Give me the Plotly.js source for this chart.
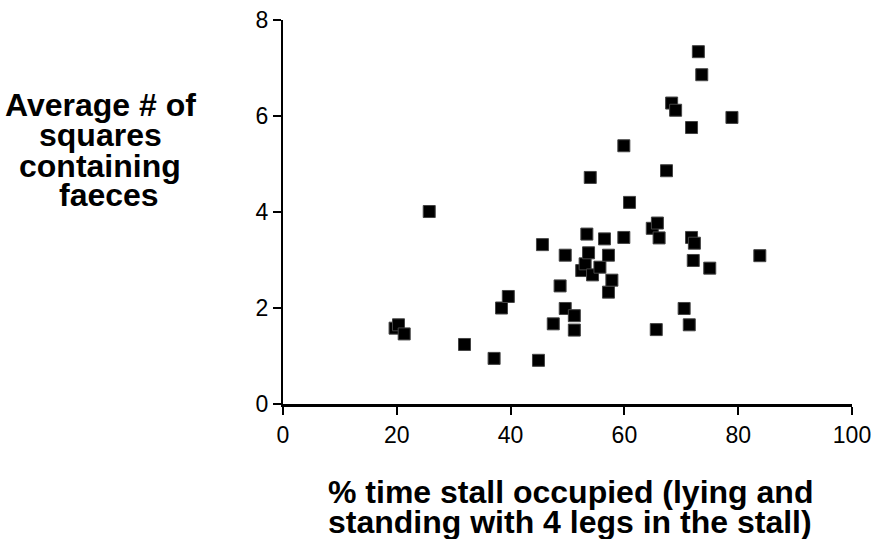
<!DOCTYPE html>
<html>
<head>
<meta charset="utf-8">
<script src="https://cdn.plot.ly/plotly-3.0.1.min.js"></script>
<style>html,body{margin:0;padding:0;background:#fff;}#chart{width:871px;height:539px;}</style>
</head>
<body>
<div id="chart"></div>
<script>
// % time stall occupied
const stallOccupied = [19.7, 20.3, 21.3, 25.7, 31.9, 37.1, 38.4, 39.6, 44.9, 45.6,
  47.5, 48.7, 49.6, 49.6, 51.2, 51.2, 52.5, 53.1, 53.4, 53.7,
  54.0, 54.4, 55.7, 56.5, 57.2, 57.2, 57.8, 59.9, 59.9, 60.9,
  64.9, 65.8, 66.1, 65.6, 67.4, 68.3, 69.0, 70.5, 71.4, 71.8,
  72.3, 72.1, 71.8, 73.0, 73.6, 75.0, 78.9, 83.8];
// Average # of squares containing faeces
const faecesSquares = [1.58, 1.65, 1.46, 4.01, 1.24, 0.95, 2.00, 2.24, 0.91, 3.32,
  1.67, 2.46, 3.10, 1.99, 1.84, 1.54, 2.78, 2.92, 3.54, 3.15,
  4.72, 2.69, 2.85, 3.44, 3.10, 2.33, 2.58, 3.47, 5.38, 4.20,
  3.66, 3.77, 3.46, 1.55, 4.86, 6.27, 6.12, 1.99, 1.65, 3.47,
  3.35, 2.99, 5.76, 7.34, 6.86, 2.83, 5.97, 3.09];
const xTicks = [0, 20, 40, 60, 80, 100];
const yTicks = [0, 2, 4, 6, 8];
const yTitleLines = ["Average # of", "squares", "containing", "faeces"];
const xTitleLines = ["% time stall occupied (lying and", "standing with 4 legs in the stall)"];

const FONT = "'Liberation Sans', Arial, sans-serif";
const titleFont = {family: FONT, size: 32, color: '#000', weight: 'bold'};

const yTitlePos = [[-0.3216, 0.7790], [-0.3216, 0.6996], [-0.3216, 0.6202], [-0.3058, 0.5434]];
const xTitlePos = [[0.5044, -0.2300], [0.5044, -0.3082]];

const annotations = [];
yTitleLines.forEach((t, i) => annotations.push({
  text: '<b>' + t + '</b>', xref: 'paper', yref: 'paper',
  x: yTitlePos[i][0], y: yTitlePos[i][1], xanchor: 'center', yanchor: 'middle',
  showarrow: false, font: titleFont
}));
xTitleLines.forEach((t, i) => annotations.push({
  text: '<b>' + t + '</b>', xref: 'paper', yref: 'paper',
  x: xTitlePos[i][0], y: xTitlePos[i][1], xanchor: 'center', yanchor: 'middle',
  showarrow: false, font: titleFont
}));

const trace = {
  x: stallOccupied, y: faecesSquares, type: 'scatter', mode: 'markers',
  marker: {symbol: 'square', size: 12, color: '#000', line: {color: '#444', width: 1}},
  hoverinfo: 'x+y', cliponaxis: false
};

const layout = {
  width: 871, height: 539,
  margin: {l: 283, r: 19, t: 20, b: 135},
  paper_bgcolor: '#fff', plot_bgcolor: '#fff',
  showlegend: false,
  font: {family: FONT, size: 23, color: '#000'},
  xaxis: {
    range: [0, 100], tickvals: xTicks, ticktext: xTicks.map(String),
    showgrid: false, zeroline: false, showline: true, linecolor: '#000', linewidth: 3,
    ticks: 'outside', ticklen: 8, tickwidth: 2, tickcolor: '#000',
    tickfont: {family: FONT, size: 23, color: '#000'}, ticklabelstandoff: 0,
    ticklabeloverflow: 'allow',
    fixedrange: true
  },
  yaxis: {
    range: [0, 8], tickvals: yTicks, ticktext: yTicks.map(String),
    showgrid: false, zeroline: false, showline: true, linecolor: '#000', linewidth: 2,
    ticks: 'outside', ticklen: 8, tickwidth: 2, tickcolor: '#000',
    tickfont: {family: FONT, size: 23, color: '#000'}, ticklabelstandoff: 0,
    fixedrange: true
  },
  annotations: annotations
};

Plotly.newPlot('chart', [trace], layout, {displayModeBar: false, staticPlot: true});
</script>
</body>
</html>
